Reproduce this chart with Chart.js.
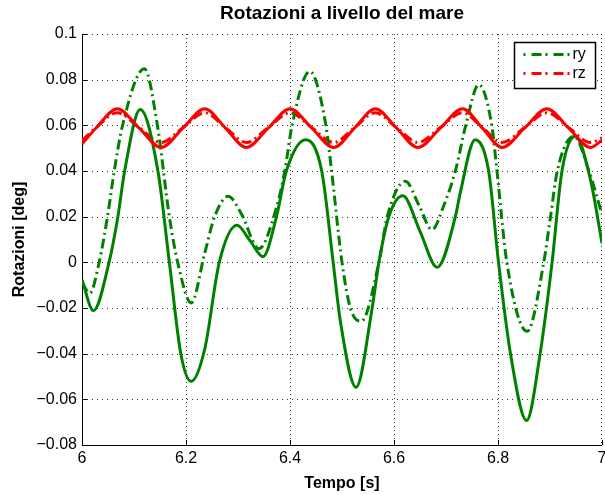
<!DOCTYPE html>
<html>
<head>
<meta charset="UTF-8">
<title>Rotazioni a livello del mare</title>
<script src="https://cdn.jsdelivr.net/npm/chart.js"></script>
<style>
    body { margin: 0; background: #fff; }
    #wrap { width: 605px; height: 495px; }
</style>
</head>
<body>
<div id="wrap"><canvas id="rotChart" width="605" height="495"></canvas></div>
<script>
// values (time [s], rotation [deg])
var greenSolidT = [6.000, 6.022, 6.052, 6.069, 6.082, 6.112, 6.146, 6.168, 6.190, 6.210, 6.236, 6.264, 6.298, 6.323, 6.348, 6.374, 6.393, 6.430, 6.461, 6.483, 6.497, 6.527, 6.558, 6.571, 6.590, 6.617, 6.650, 6.683, 6.718, 6.727, 6.756, 6.782, 6.801, 6.824, 6.855, 6.881, 6.904, 6.923, 6.949, 6.978, 7.000];
var greenSolidV = [-0.0076, -0.0212, 0.000, 0.020, 0.040, 0.0669, 0.040, 0.000, -0.040, -0.0521, -0.038, 0.000, 0.0162, 0.0095, 0.0025, 0.020, 0.040, 0.0537, 0.040, 0.000, -0.026, -0.0547, -0.020, 0.000, 0.020, 0.0292, 0.0136, -0.0022, 0.020, 0.030, 0.0537, 0.040, 0.000, -0.040, -0.0693, -0.040, 0.000, 0.040, 0.0552, 0.036, 0.0084];

var ryT = [6.000, 6.015, 6.033, 6.049, 6.062, 6.078, 6.120, 6.145, 6.168, 6.184, 6.210, 6.236, 6.255, 6.281, 6.307, 6.340, 6.374, 6.390, 6.404, 6.438, 6.469, 6.480, 6.500, 6.516, 6.537, 6.571, 6.587, 6.622, 6.648, 6.673, 6.696, 6.718, 6.738, 6.763, 6.788, 6.798, 6.817, 6.856, 6.888, 6.901, 6.914, 6.946, 6.975, 7.000];
var ryV = [-0.009, -0.0135, 0.000, 0.020, 0.040, 0.060, 0.0848, 0.060, 0.020, 0.000, -0.0178, 0.004, 0.020, 0.0289, 0.021, 0.006, 0.024, 0.040, 0.060, 0.0836, 0.060, 0.040, 0.000, -0.020, -0.0258, 0.000, 0.020, 0.0355, 0.025, 0.0143, 0.025, 0.040, 0.060, 0.0778, 0.060, 0.040, 0.000, -0.0302, 0.000, 0.020, 0.040, 0.0552, 0.040, 0.021];

var redT = [6.000, 6.027, 6.068, 6.110, 6.152, 6.194, 6.236, 6.276, 6.316, 6.358, 6.400, 6.442, 6.484, 6.524, 6.564, 6.605, 6.646, 6.689, 6.732, 6.770, 6.808, 6.851, 6.894, 6.936, 6.978, 7.000];
var redSolidV = [0.0518, 0.0588, 0.0673, 0.0588, 0.0503, 0.0588, 0.0673, 0.0588, 0.0503, 0.0588, 0.0673, 0.0588, 0.0503, 0.0588, 0.0673, 0.0588, 0.0503, 0.0588, 0.0673, 0.0588, 0.0503, 0.0588, 0.0673, 0.0588, 0.0503, 0.0535];
var rzV = [0.0533, 0.0590, 0.0655, 0.0590, 0.0525, 0.0590, 0.0655, 0.0590, 0.0525, 0.0590, 0.0655, 0.0590, 0.0525, 0.0590, 0.0655, 0.0590, 0.0525, 0.0590, 0.0655, 0.0590, 0.0525, 0.0590, 0.0655, 0.0590, 0.0525, 0.0545];

var xTickValues = [6, 6.2, 6.4, 6.6, 6.8, 7];
var xTickLabels = ['6', '6.2', '6.4', '6.6', '6.8', '7'];
var yTickValues = [-0.08, -0.06, -0.04, -0.02, 0, 0.02, 0.04, 0.06, 0.08, 0.1];
var yTickLabels = ['\u22120.08', '\u22120.06', '\u22120.04', '\u22120.02', '0', '0.02', '0.04', '0.06', '0.08', '0.1'];

var chartTitle = 'Rotazioni a livello del mare';

var FONT = "'Liberation Sans', Arial, Helvetica, sans-serif";
var GREEN = '#008000';
var RED = '#ff0000';
var DASHDOT = [10, 4, 2, 4];

function pairs(t, v) {
    return t.map(function (x, i) { return { x: x, y: v[i] }; });
}

// dotted grid, inner ticks and the title centred over the axes (matlab look)
var axesDeco = {
    id: 'axesDeco',
    beforeDatasetsDraw: function (chart) {
        var ctx = chart.ctx, a = chart.chartArea;
        var xs = chart.scales.x, ys = chart.scales.y;
        var left = Math.round(a.left), right = Math.round(a.right);
        var top = Math.round(a.top), bottom = Math.round(a.bottom);
        ctx.save();
        // grid dots
        ctx.fillStyle = '#333';
        xTickValues.forEach(function (v) {
            var px = Math.min(Math.round(xs.getPixelForValue(v)), right - 1);
            for (var y = top; y < bottom; y += 4) ctx.fillRect(px, y, 1, 1);
        });
        yTickValues.forEach(function (v) {
            var py = Math.round(ys.getPixelForValue(v));
            for (var x = left; x < right; x += 5) ctx.fillRect(x, py, 1, 1);
        });
        // ticks inside
        ctx.strokeStyle = '#000';
        ctx.lineWidth = 1;
        ctx.beginPath();
        xTickValues.forEach(function (v) {
            var px = Math.round(xs.getPixelForValue(v)) + 0.5;
            ctx.moveTo(px, bottom);
            ctx.lineTo(px, bottom - 5);
        });
        yTickValues.forEach(function (v) {
            var py = Math.round(ys.getPixelForValue(v)) + 0.5;
            ctx.moveTo(left, py);
            ctx.lineTo(left + 5, py);
        });
        ctx.stroke();
        // axis lines (left and bottom only)
        ctx.beginPath();
        ctx.moveTo(left + 0.5, top);
        ctx.lineTo(left + 0.5, bottom + 0.5);
        ctx.lineTo(right, bottom + 0.5);
        ctx.stroke();
        ctx.restore();
    },
    afterDraw: function (chart) {
        var ctx = chart.ctx, a = chart.chartArea;
        ctx.save();
        ctx.fillStyle = '#000';
        ctx.font = 'bold 19px ' + FONT;
        ctx.textAlign = 'center';
        ctx.textBaseline = 'middle';
        ctx.fillText(chartTitle, (a.left + a.right) / 2, 14);
        ctx.restore();
    }
};

// boxed legend in the top right corner, only the dash-dot series
var boxLegend = {
    id: 'boxLegend',
    afterDatasetsDraw: function (chart) {
        var ctx = chart.ctx, a = chart.chartArea;
        var bx = Math.round(a.right - 88) + 0.5, by = Math.round(a.top + 8) + 0.5;
        var bw = 81, bh = 46;
        ctx.save();
        ctx.fillStyle = '#fff';
        ctx.fillRect(bx, by, bw, bh);
        ctx.strokeStyle = '#000';
        ctx.lineWidth = 1.5;
        ctx.strokeRect(bx, by, bw, bh);
        var items = chart.data.datasets.filter(function (d) { return d.label; });
        items.forEach(function (d, i) {
            var y = by + 12 + i * 19;
            ctx.strokeStyle = d.borderColor;
            ctx.lineWidth = d.borderWidth;
            ctx.setLineDash([2, 6, 10, 4]);
            ctx.beginPath();
            ctx.moveTo(bx + 9, y);
            ctx.lineTo(bx + 55, y);
            ctx.stroke();
            ctx.setLineDash([]);
            ctx.fillStyle = '#000';
            ctx.font = '16px ' + FONT;
            ctx.textBaseline = 'middle';
            ctx.fillText(d.label, bx + 58, y);
        });
        ctx.restore();
    }
};

var chart = new Chart(document.getElementById('rotChart'), {
    type: 'line',
    data: {
        datasets: [
            { label: '', data: pairs(redT, redSolidV), borderColor: RED, borderWidth: 3 },
            { label: '', data: pairs(greenSolidT, greenSolidV), borderColor: GREEN, borderWidth: 3 },
            { label: 'ry', data: pairs(ryT, ryV), borderColor: GREEN, borderWidth: 3, borderDash: DASHDOT },
            { label: 'rz', data: pairs(redT, rzV), borderColor: RED, borderWidth: 3, borderDash: DASHDOT }
        ]
    },
    options: {
        responsive: false,
        animation: false,
        elements: {
            point: { radius: 0 },
            line: { cubicInterpolationMode: 'monotone', fill: false }
        },
        layout: { padding: { left: 0, right: 3, top: 34, bottom: 0 } },
        plugins: {
            legend: { display: false },
            tooltip: { enabled: false },
            title: { display: false }
        },
        scales: {
            x: {
                type: 'linear',
                min: 6,
                max: 7,
                afterBuildTicks: function (s) { s.ticks = xTickValues.map(function (v) { return { value: v }; }); },
                afterFit: function (s) { s.height = 50; s.paddingLeft = 0; s.paddingRight = 0; },
                ticks: {
                    color: '#000',
                    font: { family: FONT, size: 16 },
                    padding: 4,
                    maxRotation: 0,
                    autoSkip: false,
                    callback: function (v, i) { return xTickLabels[i]; }
                },
                grid: { display: false, drawTicks: false },
                border: { display: false },
                title: {
                    display: true,
                    text: 'Tempo [s]',
                    color: '#000',
                    font: { family: FONT, size: 16, weight: 'bold' },
                    padding: { top: 0, bottom: 2 }
                }
            },
            y: {
                type: 'linear',
                min: -0.08,
                max: 0.1,
                afterBuildTicks: function (s) { s.ticks = yTickValues.map(function (v) { return { value: v }; }); },
                afterFit: function (s) { s.width = 82; s.paddingTop = 0; s.paddingBottom = 0; },
                ticks: {
                    color: '#000',
                    font: { family: FONT, size: 16 },
                    padding: 5,
                    autoSkip: false,
                    callback: function (v, i) { return yTickLabels[i]; }
                },
                grid: { display: false, drawTicks: false },
                border: { display: false },
                title: {
                    display: true,
                    text: 'Rotazioni [deg]',
                    color: '#000',
                    font: { family: FONT, size: 16, weight: 'bold' },
                    padding: { top: 10, bottom: 0 }
                }
            }
        }
    },
    plugins: [axesDeco, boxLegend]
});
</script>
</body>
</html>
